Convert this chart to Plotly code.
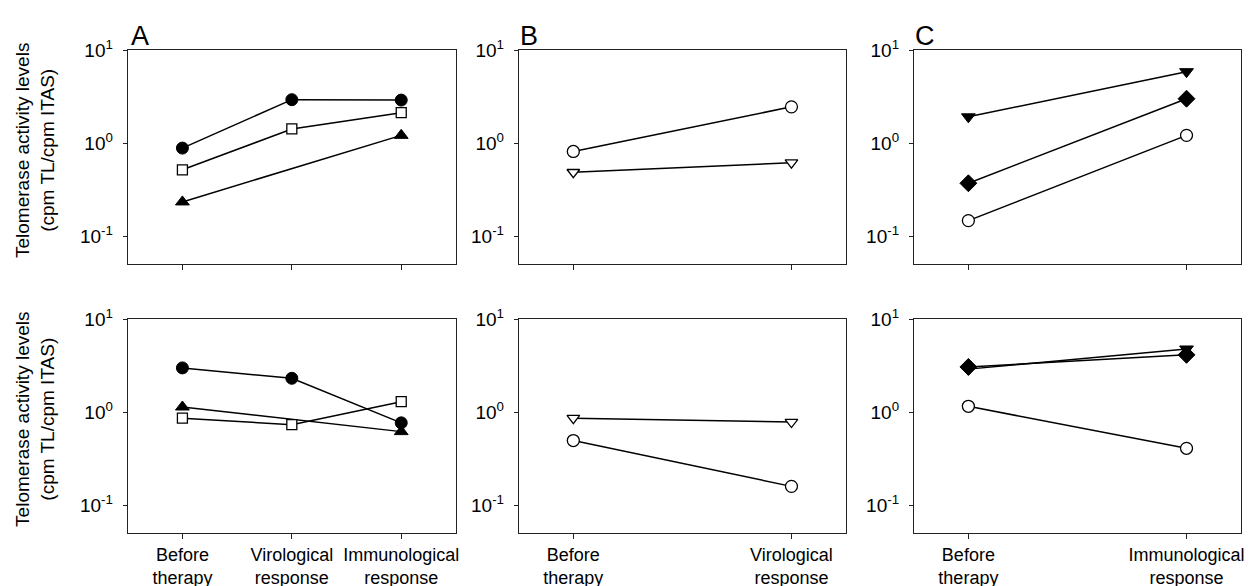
import plotly.graph_objects as go

# ---------------- data ----------------
labels_A = ["Before<br>therapy", "Virological<br>response", "Immunological<br>response"]
labels_B = ["Before<br>therapy", "Virological<br>response"]
labels_C = ["Before<br>therapy", "Immunological<br>response"]

# Panel A, top row
A_top_circle = [0.89, 2.95, 2.92]
A_top_square = [0.52, 1.43, 2.14]
A_top_triangle = [0.235, None, 1.22]
# Panel B, top row
B_top_circle = [0.82, 2.47]
B_top_tridown = [0.49, 0.62]
# Panel C, top row
C_top_tridown = [1.93, 5.9]
C_top_diamond = [0.373, 3.02]
C_top_circle = [0.148, 1.22]
# Panel A, bottom row
A_bot_circle = [3.0, 2.32, 0.77]
A_bot_triangle = [1.14, None, 0.62]
A_bot_square = [0.865, 0.736, 1.30]
# Panel B, bottom row
B_bot_tridown = [0.865, 0.786]
B_bot_circle = [0.497, 0.16]
# Panel C, bottom row
C_bot_diamond = [3.07, 4.14]
C_bot_tridown = [2.91, 4.79]
C_bot_circle = [1.16, 0.41]

ytick_vals = [0.1, 1, 10]
ytick_text = ["10<sup>-1</sup>", "10<sup>0</sup>", "10<sup>1</sup>"]

FONT = "Liberation Sans, Arial, sans-serif"
W, H = 1260, 586
OFF = 8  # page body margin compensation


def px_x(s):
    return (s - OFF) / W


def px_y(s):
    return 1 - (s - OFF) / H


fig = go.Figure()

STY = {
    "fcircle": dict(symbol="circle", size=12, color="black", line=dict(color="black", width=1)),
    "ocircle": dict(symbol="circle", size=12, color="white", line=dict(color="black", width=1.3)),
    "osquare": dict(symbol="square", size=10, color="white", line=dict(color="black", width=1.3)),
    "ftri": dict(symbol="triangle-up", size=12, color="black", line=dict(color="black", width=1)),
    "otridown": dict(symbol="triangle-down", size=11, color="white", line=dict(color="black", width=1.3)),
    "ftridown": dict(symbol="triangle-down", size=12, color="black", line=dict(color="black", width=1)),
    "fdiamond": dict(symbol="diamond", size=13, color="black", line=dict(color="black", width=1)),
}


def add(vals, style, ax):
    xs = list(range(len(vals)))
    fig.add_trace(go.Scatter(
        x=xs, y=vals, mode="lines+markers", connectgaps=True,
        line=dict(color="black", width=1.5), marker=STY[style],
        xaxis="x" + ax, yaxis="y" + ax, showlegend=False, hoverinfo="skip"))


# top row: axes 1,2,3 ; bottom row: 4,5,6
add(A_top_circle, "fcircle", "")
add(A_top_square, "osquare", "")
add(A_top_triangle, "ftri", "")
add(B_top_circle, "ocircle", "2")
add(B_top_tridown, "otridown", "2")
add(C_top_tridown, "ftridown", "3")
add(C_top_diamond, "fdiamond", "3")
add(C_top_circle, "ocircle", "3")
add(A_bot_circle, "fcircle", "4")
add(A_bot_triangle, "ftri", "4")
add(A_bot_square, "osquare", "4")
add(B_bot_tridown, "otridown", "5")
add(B_bot_circle, "ocircle", "5")
add(C_bot_tridown, "ftridown", "6")
add(C_bot_diamond, "fdiamond", "6")
add(C_bot_circle, "ocircle", "6")

xdom = [(px_x(128), px_x(457)), (px_x(520), px_x(848)), (px_x(916), px_x(1244))]
ydom = [(px_y(257), px_y(38)), (px_y(532), px_y(313))]
ncats = [3, 2, 2]
catlabels = [labels_A, labels_B, labels_C]

layout = dict(
    width=W, height=H, margin=dict(l=0, r=0, t=0, b=0),
    paper_bgcolor="white", plot_bgcolor="white",
    font=dict(family=FONT, size=18, color="black"),
)

for row in range(2):
    for col in range(3):
        idx = row * 3 + col + 1
        s = "" if idx == 1 else str(idx)
        n = ncats[col]
        pad = 0.5 if n == 3 else 0.25
        layout["xaxis" + s] = dict(
            domain=list(xdom[col]), anchor="y" + s,
            range=[-pad, n - 1 + pad],
            tickvals=list(range(n)),
            ticktext=catlabels[col],
            showticklabels=(row == 1),
            ticks="outside", ticklen=5, tickcolor="#222", tickwidth=1,
            showline=True, linecolor="#222", linewidth=1, mirror=True,
            showgrid=False, zeroline=False,
            tickfont=dict(family=FONT, size=18, color="black"),
        )
        layout["yaxis" + s] = dict(
            domain=list(ydom[row]), anchor="x" + s, type="log",
            range=[-1.301, 1],
            tickvals=ytick_vals, ticktext=ytick_text,
            ticks="outside", ticklen=4, tickcolor="#222", tickwidth=1,
            ticklabelstandoff=6,
            showline=True, linecolor="#222", linewidth=1, mirror=True,
            showgrid=False, zeroline=False,
            tickfont=dict(family=FONT, size=19, color="black"),
        )

fig.update_layout(**layout)

# panel letters
for letter, x0 in zip(["A", "B", "C"], [129, 519, 915]):
    fig.add_annotation(text=letter, x=px_x(x0), y=px_y(6), xref="paper", yref="paper",
                       xanchor="left", yanchor="top", showarrow=False,
                       font=dict(family=FONT, size=27, color="black"))

# y-axis titles
for yc in [140, 415]:
    fig.add_annotation(text="Telomerase activity levels<br>(cpm TL/cpm ITAS)",
                       x=px_x(35), y=px_y(yc), xref="paper", yref="paper",
                       xanchor="center", yanchor="middle", textangle=-90,
                       showarrow=False,
                       font=dict(family=FONT, size=19, color="black"))

fig.write_html("out.html")
